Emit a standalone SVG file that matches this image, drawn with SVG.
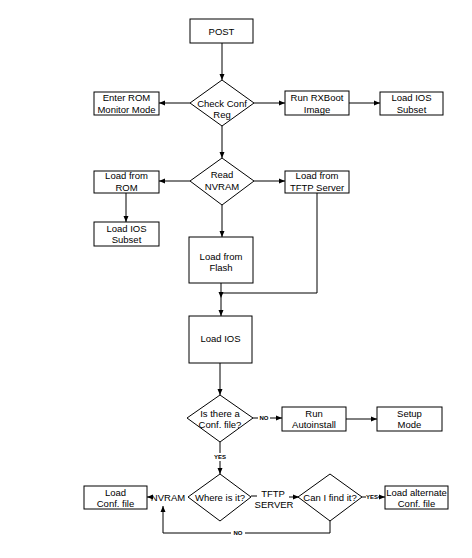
<svg xmlns="http://www.w3.org/2000/svg" width="472" height="558" viewBox="0 0 472 558">
<defs>
<style>
.b{fill:#fff;stroke:#000;stroke-width:1}
.t{font-family:"Liberation Sans",Arial,sans-serif;font-size:9.5px;fill:#000;text-anchor:middle}
.s{font-family:"Liberation Sans",Arial,sans-serif;font-size:6px;font-weight:bold;fill:#000;text-anchor:middle}
.c{fill:none;stroke:#000;stroke-width:1}
</style>
<marker id="a" viewBox="0 0 6 6" refX="6" refY="3" markerWidth="6" markerHeight="6" orient="auto" markerUnits="userSpaceOnUse">
<path d="M0,0.5 L6,3 L0,5.5 Z" fill="#000"/>
</marker>
</defs>
<rect width="472" height="558" fill="#fff"/>
<g id="connectors">
<line class="c" x1="222" y1="43" x2="222" y2="80" marker-end="url(#a)"/>
<line class="c" x1="190" y1="103" x2="159" y2="103" marker-end="url(#a)"/>
<line class="c" x1="254" y1="103" x2="285" y2="103" marker-end="url(#a)"/>
<line class="c" x1="349" y1="103" x2="380" y2="103" marker-end="url(#a)"/>
<line class="c" x1="222" y1="126" x2="222" y2="158" marker-end="url(#a)"/>
<line class="c" x1="190" y1="181" x2="159" y2="181" marker-end="url(#a)"/>
<line class="c" x1="254" y1="181" x2="285" y2="181" marker-end="url(#a)"/>
<line class="c" x1="222" y1="205" x2="222" y2="237" marker-end="url(#a)"/>
<line class="c" x1="126" y1="193" x2="126" y2="222" marker-end="url(#a)"/>
<polyline class="c" points="317,193 317,293 221,293"/>
<line class="c" x1="221" y1="283" x2="221" y2="298" marker-end="url(#a)"/>
<line class="c" x1="221" y1="298" x2="221" y2="316" marker-end="url(#a)"/>
<line class="c" x1="220" y1="363" x2="220" y2="395" marker-end="url(#a)"/>
<line class="c" x1="253" y1="418" x2="258" y2="418"/>
<line class="c" x1="270" y1="418" x2="282" y2="418" marker-end="url(#a)"/>
<text class="s" x="264" y="420">NO</text>
<line class="c" x1="346" y1="419" x2="377" y2="419" marker-end="url(#a)"/>
<line class="c" x1="220" y1="442" x2="220" y2="453"/>
<text class="s" x="220" y="459">YES</text>
<line class="c" x1="220" y1="461" x2="220" y2="474" marker-end="url(#a)"/>
<line class="c" x1="152" y1="497" x2="147" y2="497" marker-end="url(#a)"/>
<text class="t" x="168" y="501">NVRAM</text>
<line class="c" x1="251" y1="496" x2="257" y2="496"/>
<text class="t" x="273" y="497">TFTP</text>
<text class="t" x="274" y="508">SERVER</text>
<line class="c" x1="289" y1="497" x2="299" y2="497" marker-end="url(#a)"/>
<line class="c" x1="362" y1="497" x2="366" y2="497"/>
<text class="s" x="372" y="499">YES</text>
<line class="c" x1="378" y1="497" x2="385" y2="497" marker-end="url(#a)"/>
<polyline class="c" points="330,521 330,533 245,533"/>
<text class="s" x="238" y="535">NO</text>
<polyline class="c" points="231,533 163,533 163,506" marker-end="url(#a)"/>
</g>
<g id="post"><rect class="b" x="190" y="19" width="63" height="24"/><text class="t" x="221.5" y="35">POST</text></g>
<g id="checkconf"><polygon class="b" points="222,80 254,103 222,126 190,103"/><text class="t" x="222" y="107">Check Conf</text><text class="t" x="222" y="118">Reg</text></g>
<g id="rommon"><rect class="b" x="94" y="92" width="65" height="23"/><text class="t" x="126.5" y="101">Enter ROM</text><text class="t" x="126.5" y="113">Monitor Mode</text></g>
<g id="rxboot"><rect class="b" x="285" y="91" width="64" height="24"/><text class="t" x="317" y="101">Run RXBoot</text><text class="t" x="317" y="113">Image</text></g>
<g id="iossubset1"><rect class="b" x="380" y="92" width="63" height="23"/><text class="t" x="411.5" y="101">Load IOS</text><text class="t" x="411.5" y="113">Subset</text></g>
<g id="readnvram"><polygon class="b" points="222,158 254,181 222,205 190,181"/><text class="t" x="222" y="178">Read</text><text class="t" x="222" y="190">NVRAM</text></g>
<g id="loadrom"><rect class="b" x="94" y="171" width="65" height="22"/><text class="t" x="126.5" y="179">Load from</text><text class="t" x="126.5" y="191">ROM</text></g>
<g id="iossubset2"><rect class="b" x="94" y="222" width="65" height="24"/><text class="t" x="126.5" y="232">Load IOS</text><text class="t" x="126.5" y="243">Subset</text></g>
<g id="loadtftp"><rect class="b" x="285" y="171" width="64" height="22"/><text class="t" x="317" y="179">Load from</text><text class="t" x="317" y="191">TFTP Server</text></g>
<g id="loadflash"><rect class="b" x="189" y="237" width="64" height="46"/><text class="t" x="221" y="260">Load from</text><text class="t" x="221" y="271">Flash</text></g>
<g id="loadios"><rect class="b" x="189" y="316" width="63" height="47"/><text class="t" x="220.5" y="342">Load IOS</text></g>
<g id="isconf"><polygon class="b" points="220,395 253,418 220,442 187,418"/><text class="t" x="220" y="417">Is there a</text><text class="t" x="220" y="428">Conf. file?</text></g>
<g id="autoinstall"><rect class="b" x="282" y="407" width="64" height="24"/><text class="t" x="314" y="417">Run</text><text class="t" x="314" y="428">Autoinstall</text></g>
<g id="setup"><rect class="b" x="377" y="407" width="65" height="24"/><text class="t" x="409.5" y="417">Setup</text><text class="t" x="409.5" y="428">Mode</text></g>
<g id="whereis"><polygon class="b" points="220,474 251,497 220,521 188,497"/><text class="t" x="220" y="501">Where is it?</text></g>
<g id="loadconf"><rect class="b" x="84" y="486" width="63" height="23"/><text class="t" x="115.5" y="496">Load</text><text class="t" x="115.5" y="507">Conf. file</text></g>
<g id="canfind"><polygon class="b" points="330,474 362,497 330,521 298,497"/><text class="t" x="330" y="501">Can I find it?</text></g>
<g id="loadalt"><rect class="b" x="385" y="486" width="63" height="23"/><text class="t" x="416.5" y="496">Load alternate</text><text class="t" x="416.5" y="507">Conf. file</text></g>
</svg>
